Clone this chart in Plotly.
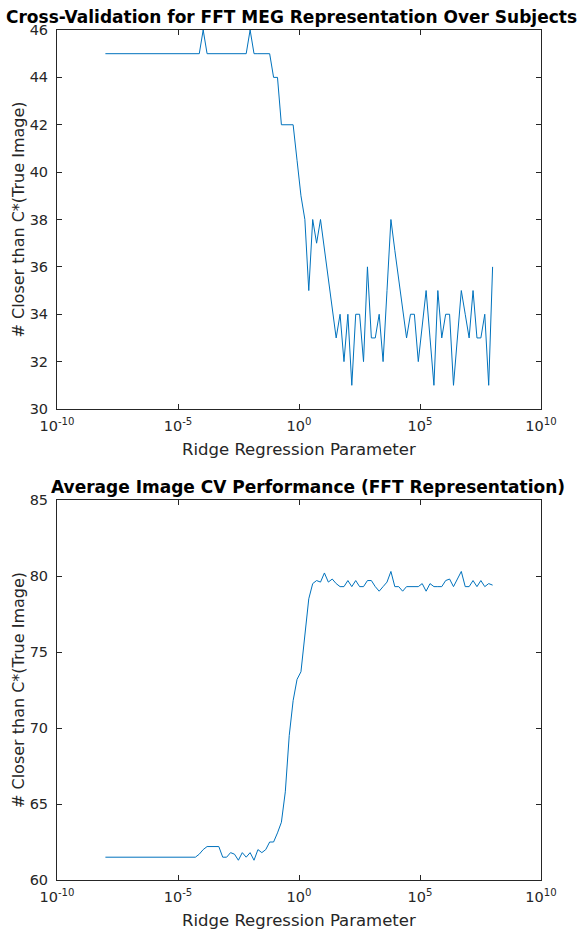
import numpy as np
import plotly.graph_objects as go

# Ridge regression parameters (log-spaced grid, 1e-8 .. 1e8, 100 values)
ridge_params = np.logspace(-8, 8, 100)

# Top panel: # closer than C* (true image), cross-validation over subjects
subjects_cv = [
    45, 45, 45, 45, 45, 45, 45, 45, 45, 45,
    45, 45, 45, 45, 45, 45, 45, 45, 45, 45,
    45, 45, 45, 45, 45, 46, 45, 45, 45, 45,
    45, 45, 45, 45, 45, 45, 45, 46, 45, 45,
    45, 45, 45, 44, 44, 42, 42, 42, 42, 40.5,
    39, 38, 35, 38, 37, 38, 36.8, 35.5, 34.3, 33,
    34, 32, 34, 31, 34, 34, 32, 36, 33, 33,
    34, 32, 35, 38, 36.7, 35.5, 34.2, 33, 34, 34,
    32, 33.5, 35, 33, 31, 35, 33, 34, 34, 31,
    33, 35, 34, 33, 35, 33, 33, 34, 31, 36,
]

# Bottom panel: average image CV performance (FFT representation)
average_cv = [
    61.5, 61.5, 61.5, 61.5, 61.5, 61.5, 61.5, 61.5, 61.5, 61.5,
    61.5, 61.5, 61.5, 61.5, 61.5, 61.5, 61.5, 61.5, 61.5, 61.5,
    61.5, 61.5, 61.5, 61.5, 61.7, 62.0, 62.2, 62.2, 62.2, 62.2,
    61.5, 61.5, 61.8, 61.7, 61.3, 61.8, 61.5, 61.8, 61.3, 62.0,
    61.8, 62.0, 62.5, 62.5, 63.1, 63.8, 65.8, 69.5, 71.8, 73.2,
    73.7, 76.0, 78.5, 79.5, 79.7, 79.6, 80.2, 79.6, 79.8, 79.5,
    79.3, 79.3, 79.7, 79.3, 79.7, 79.3, 79.3, 79.7, 79.7, 79.3,
    79.0, 79.3, 79.6, 80.3, 79.3, 79.3, 79.0, 79.3, 79.3, 79.3,
    79.3, 79.5, 79.0, 79.5, 79.3, 79.3, 79.3, 79.7, 79.8, 79.3,
    79.8, 80.3, 79.3, 79.3, 79.7, 79.3, 79.7, 79.3, 79.5, 79.4,
]

x_tick_vals = [1e-10, 1e-5, 1e0, 1e5, 1e10]
x_tick_text = ["10<sup>-10</sup>", "10<sup>-5</sup>", "10<sup>0</sup>",
               "10<sup>5</sup>", "10<sup>10</sup>"]
top_y_ticks = [30, 32, 34, 36, 38, 40, 42, 44, 46]
bottom_y_ticks = [60, 65, 70, 75, 80, 85]

titles = ["Cross-Validation for FFT MEG Representation Over Subjects",
          "Average Image CV Performance (FFT Representation)"]
x_label = "Ridge Regression Parameter"
y_label = "# Closer than C*(True Image)"

W, H = 579, 930
LINE = "#0072BD"
AX = "#262626"
FONT = "DejaVu Sans"

left, right = 57, 541
top_box = (30, 409)
bot_box = (500, 880)
title_cx = [291, 308]

def py(p):
    return 1 - p / H

fig = go.Figure()
fig.add_trace(go.Scatter(x=ridge_params, y=subjects_cv, mode="lines",
                         line=dict(color=LINE, width=1), xaxis="x", yaxis="y",
                         showlegend=False))
fig.add_trace(go.Scatter(x=ridge_params, y=average_cv, mode="lines",
                         line=dict(color=LINE, width=1), xaxis="x2", yaxis="y2",
                         showlegend=False))

common_x = dict(type="log", range=[-10, 10], tickvals=x_tick_vals, ticktext=x_tick_text,
                ticks="inside", ticklen=5, tickcolor=AX, showline=True, linecolor=AX,
                linewidth=1, mirror="ticks", showgrid=False, zeroline=False,
                automargin=False, ticklabelstandoff=4,
                tickfont=dict(family=FONT, size=14.5, color=AX),
                domain=[left / W, right / W])
common_y = dict(ticks="inside", ticklen=5, tickcolor=AX, showline=True, linecolor=AX,
                linewidth=1, mirror="ticks", showgrid=False, zeroline=False,
                automargin=False, ticklabelstandoff=5,
                tickfont=dict(family=FONT, size=14.5, color=AX))

fig.update_layout(
    width=W, height=H,
    margin=dict(l=0, r=0, t=0, b=0),
    paper_bgcolor="white", plot_bgcolor="white",
    xaxis=dict(**common_x, anchor="y"),
    yaxis=dict(**common_y, range=[30, 46], tickvals=top_y_ticks,
               domain=[py(top_box[1]), py(top_box[0])], anchor="x"),
    xaxis2=dict(**common_x, anchor="y2"),
    yaxis2=dict(**common_y, range=[60, 85], tickvals=bottom_y_ticks,
                domain=[py(bot_box[1]), py(bot_box[0])], anchor="x2"),
)

cx = (left + right) / 2 / W
annots = []
for t, box, tcx in zip(titles, [top_box, bot_box], title_cx):
    annots.append(dict(text="<b>%s</b>" % t, x=tcx / W, y=py(box[0] - 1), xref="paper",
                       yref="paper", xanchor="center", yanchor="bottom", showarrow=False,
                       font=dict(family=FONT, size=17, color="black")))
    annots.append(dict(text=x_label, x=cx, y=py(box[1] + 40), xref="paper", yref="paper",
                       xanchor="center", yanchor="middle", showarrow=False,
                       font=dict(family=FONT, size=16.5, color=AX)))
    annots.append(dict(text=y_label, x=18 / W, y=py((box[0] + box[1]) / 2), xref="paper",
                       yref="paper", xanchor="center", yanchor="middle", showarrow=False,
                       textangle=-90, font=dict(family=FONT, size=16, color=AX)))
fig.update_layout(annotations=annots)

fig.write_html("out.html", config={"displayModeBar": False},
               post_script="document.body.style.margin='0';document.body.style.overflow='hidden';")
